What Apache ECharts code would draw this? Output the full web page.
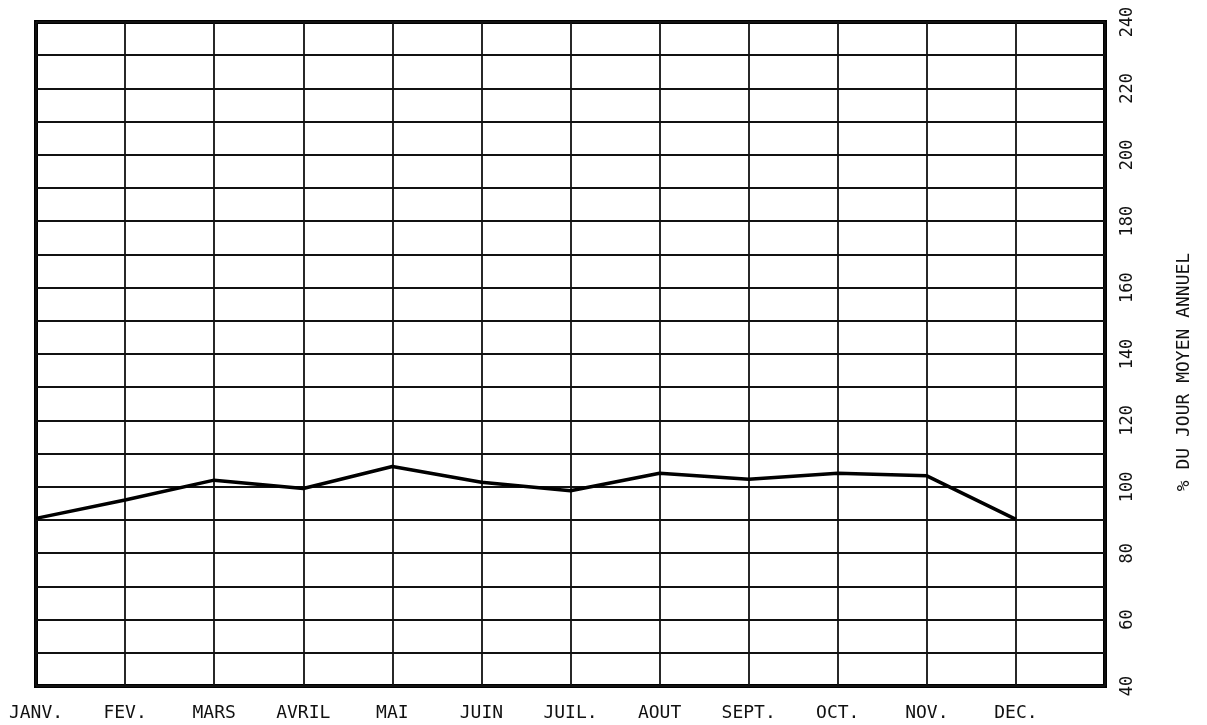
<!DOCTYPE html>
<html>
<head>
<meta charset="utf-8">
<script src="https://cdn.jsdelivr.net/npm/echarts@6/dist/echarts.min.js"></script>
<style>
html,body{margin:0;padding:0;background:#fff;}
#c{width:1207px;height:725px;}
</style>
</head>
<body>
<div id="c"></div>
<script>
const months = ['JANV.', 'FEV.', 'MARS', 'AVRIL', 'MAI', 'JUIN', 'JUIL.', 'AOUT', 'SEPT.', 'OCT.', 'NOV.', 'DEC.', ''];
const values = [90.5, 96.0, 102.0, 99.5, 106.1, 101.4, 98.8, 104.1, 102.3, 104.1, 103.3, 90.2];
const yTicks = [40, 60, 80, 100, 120, 140, 160, 180, 200, 220, 240];
const yTitle = '% DU JOUR MOYEN ANNUEL';

const chart = echarts.init(document.getElementById('c'), null, {renderer: 'canvas'});
const font = 'DejaVu Sans Mono';
chart.setOption({
  backgroundColor: '#ffffff',
  animation: false,
  grid: {
    left: 36, right: 102, top: 22, bottom: 39,
    show: true, borderColor: '#000', borderWidth: 4, backgroundColor: 'transparent'
  },
  xAxis: {
    type: 'category',
    data: months,
    boundaryGap: false,
    axisLine: {show: false},
    axisTick: {show: false},
    axisLabel: {
      interval: 0, margin: 18, color: '#111',
      fontFamily: font, fontSize: 18
    },
    splitLine: {show: true, interval: 0, lineStyle: {color: '#111', width: 1.8}}
  },
  yAxis: {
    type: 'value',
    position: 'right',
    min: 40, max: 240, interval: 10,
    axisLine: {show: false},
    axisTick: {show: false},
    axisLabel: {
      rotate: 90, margin: 14, color: '#111',
      fontFamily: font, fontSize: 17,
      formatter: v => yTicks.indexOf(v) >= 0 ? String(v) : ''
    },
    splitLine: {show: true, lineStyle: {color: '#111', width: 1.8}},
    name: yTitle,
    nameLocation: 'middle',
    nameRotate: 90,
    nameGap: 70,
    nameTextStyle: {color: '#111', fontFamily: font, fontSize: 18, padding: [0, 36, 0, 0]}
  },
  series: [{
    type: 'line',
    data: values,
    symbol: 'none',
    lineStyle: {color: '#000', width: 3.5},
    z: 5
  }]
});
</script>
</body>
</html>
